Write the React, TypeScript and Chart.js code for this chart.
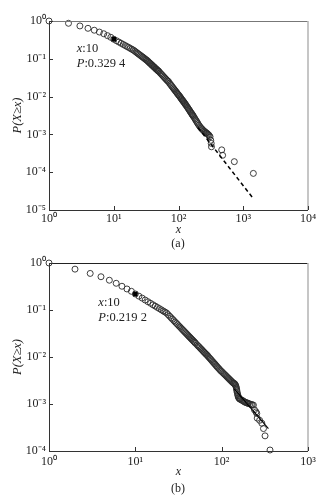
import React, { useEffect, useRef } from 'react';
import { Chart, registerables } from 'chart.js';

Chart.register(...registerables);

const FONT = "'Liberation Serif', 'Times New Roman', serif";

// ---------- Panel (a) ----------
const xA = [1, 2, 3, 4, 5, 6, 7, 8, 9, 10, 11, 12, 13, 14, 15, 16, 17, 18, 19, 20,
  21, 22, 23, 24, 25, 26, 27, 28, 29, 30, 31, 32, 33, 34, 35, 36, 37, 38, 39, 40,
  41, 42, 43, 44, 45, 46, 47, 48, 49, 50, 52, 54, 56, 58, 60, 62, 64, 66, 68, 70,
  72.5, 75, 77.5, 80, 82.5, 85, 87.5, 90, 92.5, 95, 97.5, 100, 102.5, 105, 107.5, 110, 112.5, 115, 117.5, 120,
  122.5, 125, 127.5, 130, 133.5, 137, 140.5, 144, 147.5, 151, 154.5, 158, 161, 164, 167, 170, 175, 180, 185, 190,
  195, 200, 207, 215, 222, 230, 237, 245, 252, 260, 267, 275, 282, 290, 298, 307, 315, 320, 323, 465, 480, 728, 1432];
const pA = [1, 0.87, 0.74, 0.64, 0.57, 0.51, 0.46, 0.41, 0.37, 0.3294, 0.301, 0.277, 0.257, 0.24, 0.225, 0.211, 0.2, 0.189, 0.179, 0.171,
  0.161, 0.151, 0.143, 0.135, 0.128, 0.122, 0.116, 0.111, 0.106, 0.101, 0.097, 0.093, 0.089, 0.0847, 0.0809, 0.0773, 0.074, 0.0709, 0.068, 0.0653,
  0.0628, 0.0604, 0.0582, 0.056, 0.054, 0.0522, 0.0504, 0.0488, 0.0472, 0.046, 0.0425, 0.0397, 0.0371, 0.0347, 0.0326, 0.0307, 0.029, 0.0274, 0.0259, 0.025,
  0.0227, 0.021, 0.0196, 0.0182, 0.017, 0.0159, 0.0149, 0.014, 0.0132, 0.0124, 0.0117, 0.0111, 0.0105, 0.01, 0.0094, 0.0089, 0.00845, 0.008, 0.00764, 0.0073,
  0.00692, 0.0066, 0.0063, 0.006, 0.00562, 0.00526, 0.00493, 0.00462, 0.00435, 0.00408, 0.00385, 0.00363, 0.00347, 0.0033, 0.00315, 0.003, 0.00279, 0.00257, 0.00238, 0.00221,
  0.00206, 0.00191, 0.00174, 0.0016, 0.00148, 0.0014, 0.00132, 0.00125, 0.0012, 0.00115, 0.0011, 0.00107, 0.00102, 0.00098, 0.00093, 0.00087, 0.0007, 0.00058, 0.00047, 0.00039, 0.00028, 0.00019, 0.000093];
const markXA = 10;
const markPA = 0.3294;
const markTextA = '0.329 4';
const fitXA = [200, 1432];
const fitPA = [0.00152, 0.00002];
const xTicksA = [1, 10, 100, 1000, 10000];
const xTickLabelsA = ['10⁰', '10¹', '10²', '10³', '10⁴'];
const yTicksA = [0.00001, 0.0001, 0.001, 0.01, 0.1, 1];
const yTickLabelsA = ['10⁻⁵', '10⁻⁴', '10⁻³', '10⁻²', '10⁻¹', '10⁰'];

// ---------- Panel (b) ----------
const xB = [1, 2, 3, 4, 5, 6, 7, 8, 9, 10, 11, 12, 13, 14, 15, 16, 17, 18, 19, 20,
  21, 22, 23, 24, 25, 26, 27, 28, 29, 30, 31, 32, 33, 34, 35, 36, 37, 38, 39, 40,
  41, 42, 43, 44, 45, 46, 47, 48, 49, 50, 52, 53.5, 55, 56.5, 58, 59.5, 61, 62.5, 64, 65.5,
  67, 68.5, 70, 72, 74, 76, 78, 80, 82, 84, 86, 88, 90, 92.5, 95, 97.5, 100, 103, 106, 109,
  112, 115, 118, 121, 124, 127, 130, 133, 136, 138.5, 141, 143, 145, 146.5, 148, 149, 150, 151.5, 153, 154.5,
  156, 158, 160, 162.5, 165, 170, 175, 180, 185, 190, 195, 200, 204, 212, 220, 226, 233, 240, 250, 255,
  258, 275, 292, 305, 318, 363];
const pB = [1, 0.74, 0.6, 0.51, 0.43, 0.37, 0.32, 0.28, 0.25, 0.2192, 0.197, 0.179, 0.163, 0.15, 0.139, 0.129, 0.121, 0.1135, 0.107, 0.101,
  0.0955, 0.0907, 0.0863, 0.0796, 0.0736, 0.0682, 0.0635, 0.0592, 0.0553, 0.0519, 0.0488, 0.0458, 0.0433, 0.0408, 0.0386, 0.0366, 0.0347, 0.033, 0.0314, 0.0299,
  0.0285, 0.0272, 0.0261, 0.0249, 0.0239, 0.0229, 0.022, 0.0211, 0.0203, 0.0195, 0.0181, 0.0171, 0.0163, 0.0154, 0.0147, 0.014, 0.0133, 0.0127, 0.0122, 0.0116,
  0.0112, 0.0107, 0.0102, 0.0096, 0.0091, 0.0086, 0.0081, 0.0077, 0.0073, 0.007, 0.0066, 0.0063, 0.006, 0.0057, 0.0054, 0.0051, 0.0049, 0.00465, 0.0044, 0.00419,
  0.004, 0.0038, 0.00362, 0.00347, 0.00331, 0.00318, 0.00304, 0.00292, 0.0028, 0.00275, 0.0027, 0.0026, 0.0025, 0.00235, 0.0022, 0.00205, 0.0019, 0.00175, 0.0016, 0.0015,
  0.0014, 0.00135, 0.0013, 0.00128, 0.00125, 0.00121, 0.00118, 0.00114, 0.0011, 0.00108, 0.00106, 0.00104, 0.00103, 0.001, 0.00098, 0.00096, 0.00095, 0.00075, 0.00068, 0.00063,
  0.0005, 0.00045, 0.00039, 0.0003, 0.00021, 0.000105];
const markXB = 10;
const markPB = 0.2192;
const markTextB = '0.219 2';
const fitXB = [140, 348];
const fitPB = [0.0021, 0.0003];
const xTicksB = [1, 10, 100, 1000];
const xTickLabelsB = ['10⁰', '10¹', '10²', '10³'];
const yTicksB = [0.0001, 0.001, 0.01, 0.1, 1];
const yTickLabelsB = ['10⁻⁴', '10⁻³', '10⁻²', '10⁻¹', '10⁰'];

type PanelProps = {
  top: number;
  height: number;
  areaTop: number;
  areaBottom: number;
  xs: number[];
  ps: number[];
  markX: number;
  markP: number;
  markText: string;
  fitX: number[];
  fitP: number[];
  dashed: boolean;
  xTicks: number[];
  xTickLabels: string[];
  yTicks: number[];
  yTickLabels: string[];
  xTickPad: number;
  xTitlePad: number;
  topColor: string;
  caption: string;
  captionY: number;
};

function labelFor(v: number, ticks: number[], labels: string[]) {
  for (let i = 0; i < ticks.length; i++) {
    if (Math.abs(Math.log10(v) - Math.log10(ticks[i])) < 1e-6) return labels[i];
  }
  return '';
}

function Panel(p: PanelProps) {
  const ref = useRef<HTMLCanvasElement | null>(null);
  useEffect(() => {
    if (!ref.current) return;
    const W = 328;
    const areaLeft = 49;
    const areaRight = 308;

    const framePlugin = {
      id: 'frame' + p.caption,
      afterDraw(chart: any) {
        const ctx = chart.ctx;
        const a = chart.chartArea;
        const xs = chart.scales.x;
        const ys = chart.scales.y;
        ctx.save();
        ctx.strokeStyle = p.topColor;
        ctx.lineWidth = 1;
        ctx.beginPath();
        ctx.moveTo(a.left, a.top + 0.5);
        ctx.lineTo(a.right, a.top + 0.5);
        ctx.stroke();
        ctx.strokeStyle = '#b8b8b8';
        ctx.lineWidth = 1.6;
        ctx.beginPath();
        ctx.moveTo(a.right, a.top);
        ctx.lineTo(a.right, a.bottom);
        ctx.stroke();
        ctx.strokeStyle = '#333';
        ctx.lineWidth = 1;
        ctx.beginPath();
        ctx.moveTo(a.left + 0.5, a.top);
        ctx.lineTo(a.left + 0.5, a.bottom + 0.5);
        ctx.lineTo(a.right, a.bottom + 0.5);
        ctx.stroke();
        ctx.beginPath();
        for (const t of p.xTicks) {
          const x = Math.round(xs.getPixelForValue(t)) + 0.5;
          ctx.moveTo(x, a.bottom);
          ctx.lineTo(x, a.bottom - 4);
        }
        for (const t of p.yTicks) {
          const y = Math.round(ys.getPixelForValue(t)) + 0.5;
          ctx.moveTo(a.left, y);
          ctx.lineTo(a.left + 4, y);
        }
        ctx.stroke();
        const px = xs.getPixelForValue(p.markX);
        const py = ys.getPixelForValue(p.markP);
        const lx = px - 37;
        ctx.fillStyle = '#222';
        ctx.textBaseline = 'middle';
        ctx.textAlign = 'left';
        const drawPair = (ital: string, rest: string, y: number) => {
          ctx.font = `italic 12.5px ${FONT}`;
          ctx.fillText(ital, lx, y);
          const w = ctx.measureText(ital).width;
          ctx.font = `12.5px ${FONT}`;
          ctx.fillText(rest, lx + w, y);
        };
        drawPair('x', ':10', py + 9);
        drawPair('P', ':' + p.markText, py + 24);
        ctx.restore();
      },
    };

    const chart = new Chart(ref.current, {
      type: 'scatter',
      data: {
        datasets: [
          {
            type: 'line',
            data: p.fitX.map((x, i) => ({ x, y: p.fitP[i] })),
            borderColor: '#000',
            borderWidth: p.dashed ? 1.5 : 1.1,
            borderDash: p.dashed ? [4, 3] : [],
            pointRadius: 0,
            fill: false,
            clip: false,
            order: 0,
          } as any,
          {
            data: p.xs.map((x, i) => ({ x, y: p.ps[i] })),
            pointStyle: 'circle',
            pointRadius: 3,
            borderColor: '#2a2a2a',
            borderWidth: 0.9,
            backgroundColor: 'rgba(0,0,0,0)',
            clip: false,
            order: 1,
          } as any,
          {
            data: [{ x: p.markX, y: p.markP }],
            pointStyle: 'rect',
            pointRadius: 3.2,
            backgroundColor: '#000',
            borderColor: '#000',
            borderWidth: 0,
            clip: false,
            order: -1,
          } as any,
        ],
      },
      options: {
        responsive: false,
        animation: false,
        events: [],
        layout: { padding: { top: p.areaTop, right: W - areaRight, left: 0, bottom: 0 } },
        plugins: { legend: { display: false }, tooltip: { enabled: false } },
        scales: {
          x: {
            type: 'logarithmic',
            position: 'bottom',
            min: p.xTicks[0],
            max: p.xTicks[p.xTicks.length - 1],
            afterBuildTicks: (s: any) => {
              s.ticks = p.xTicks.map((v) => ({ value: v }));
            },
            afterFit: (s: any) => {
              s.height = p.height - p.areaBottom;
            },
            grid: { display: false, drawTicks: false },
            border: { display: false },
            ticks: {
              padding: p.xTickPad,
              color: '#222',
              font: { family: FONT, size: 12 },
              autoSkip: false,
              maxRotation: 0,
              callback: (v: any) => labelFor(Number(v), p.xTicks, p.xTickLabels),
            },
            title: {
              display: true,
              text: 'x',
              color: '#222',
              font: { family: FONT, size: 12, style: 'italic' },
              padding: { top: 0, bottom: p.xTitlePad },
            },
          },
          y: {
            type: 'logarithmic',
            position: 'left',
            min: p.yTicks[0],
            max: p.yTicks[p.yTicks.length - 1],
            afterBuildTicks: (s: any) => {
              s.ticks = p.yTicks.map((v) => ({ value: v }));
            },
            afterFit: (s: any) => {
              s.width = areaLeft;
            },
            grid: { display: false, drawTicks: false },
            border: { display: false },
            ticks: {
              padding: 3,
              color: '#222',
              font: { family: FONT, size: 12 },
              autoSkip: false,
              callback: (v: any) => labelFor(Number(v), p.yTicks, p.yTickLabels),
            },
            title: {
              display: true,
              text: 'P(X≥x)',
              color: '#222',
              font: { family: FONT, size: 12.5, style: 'italic' },
              padding: { top: 10, bottom: 0 },
            },
          },
        },
      } as any,
      plugins: [framePlugin as any],
    });
    return () => chart.destroy();
  }, []);

  return (
    <div style={{ position: 'absolute', left: 0, top: p.top, width: 328, height: p.height }}>
      <canvas ref={ref} width={328} height={p.height} style={{ display: 'block', width: 328, height: p.height }} />
      <div
        style={{
          position: 'absolute',
          left: 178 - 20,
          width: 40,
          top: p.captionY - 8,
          height: 16,
          lineHeight: '16px',
          textAlign: 'center',
          fontFamily: FONT,
          fontSize: 12,
          color: '#222',
        }}
      >
        {p.caption}
      </div>
    </div>
  );
}

export default function App() {
  return (
    <div style={{ position: 'absolute', left: 0, top: 0, width: 328, height: 502, background: '#fff' }}>
      <Panel
        top={0}
        height={250}
        areaTop={21}
        areaBottom={210}
        xs={xA}
        ps={pA}
        markX={markXA}
        markP={markPA}
        markText={markTextA}
        fitX={fitXA}
        fitP={fitPA}
        dashed={true}
        xTicks={xTicksA}
        xTickLabels={xTickLabelsA}
        yTicks={yTicksA}
        yTickLabels={yTickLabelsA}
        xTickPad={2}
        xTitlePad={13}
        topColor="#777"
        caption="(a)"
        captionY={243}
      />
      <Panel
        top={250}
        height={252}
        areaTop={13}
        areaBottom={201}
        xs={xB}
        ps={pB}
        markX={markXB}
        markP={markPB}
        markText={markTextB}
        fitX={fitXB}
        fitP={fitPB}
        dashed={false}
        xTicks={xTicksB}
        xTickLabels={xTickLabelsB}
        yTicks={yTicksB}
        yTickLabels={yTickLabelsB}
        xTickPad={4}
        xTitlePad={23}
        topColor="#222"
        caption="(b)"
        captionY={238}
      />
    </div>
  );
}
